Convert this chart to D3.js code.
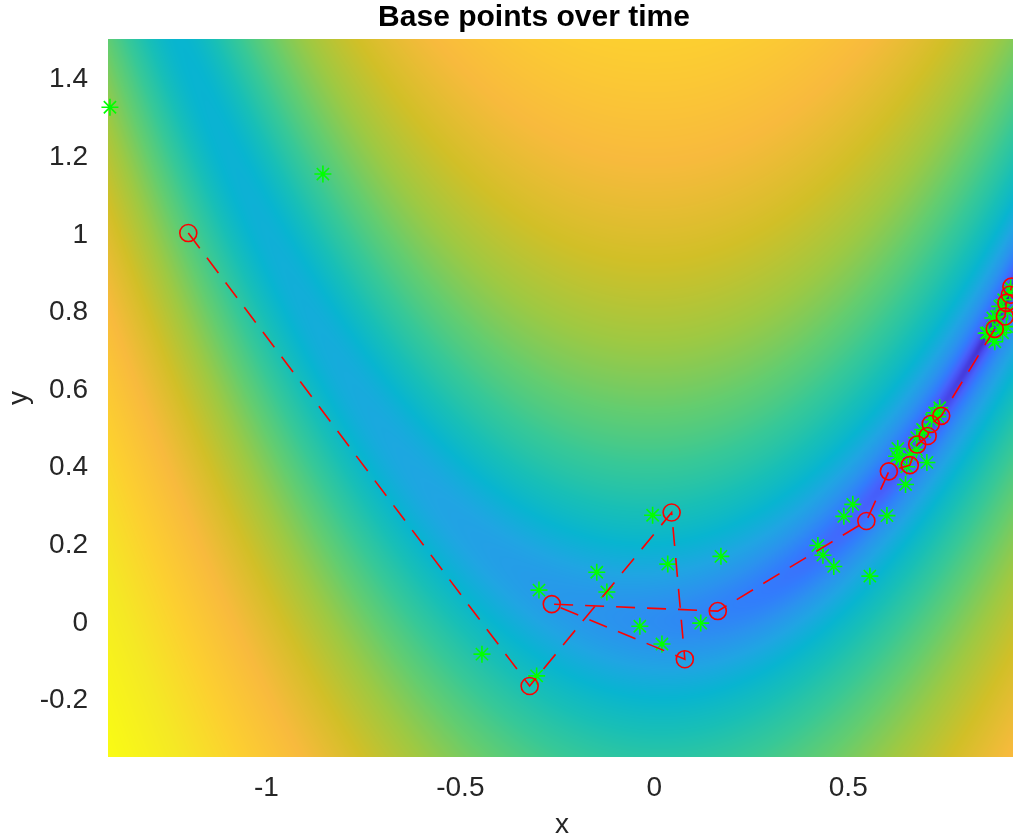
<!DOCTYPE html>
<html>
<head>
<meta charset="utf-8">
<script src="https://cdn.jsdelivr.net/npm/d3@7"></script>
<style>
  html, body { margin: 0; padding: 0; background: #fff; }
  #wrap { position: relative; width: 1013px; height: 838px; overflow: hidden; }
  #bg { position: absolute; left: 0; top: 0; }
  #fg { position: absolute; left: 0; top: 0; }
  text { font-family: "Liberation Sans", Arial, Helvetica, sans-serif; }
</style>
</head>
<body>
<div id="wrap">
  <canvas id="bg" width="1013" height="838"></canvas>
  <svg id="fg" width="1013" height="838"></svg>
</div>
<script>
// Pattern search on the Rosenbrock function: accepted base points (in order)
const baseX = [-1.2, -0.32, 0.046, 0.080, -0.263, 0.165, 0.548, 0.606, 0.660, 0.679,
               0.706, 0.714, 0.741, 0.879, 0.905, 0.909, 0.918, 0.922];
const baseY = [1.0, -0.167, 0.280, -0.098, 0.044, 0.026, 0.258, 0.386, 0.402, 0.455,
               0.477, 0.508, 0.529, 0.753, 0.785, 0.820, 0.841, 0.862];

// Trial points evaluated during the search
const trialX = [-1.402, -0.853, -0.443, -0.302, -0.296, -0.147, -0.121, -0.003, 0.036, 0.173,
                -0.036, 0.021, 0.121, 0.423, 0.436, 0.464, 0.490, 0.513, 0.557, 0.601,
                0.629, 0.634, 0.649, 0.652, 0.660, 0.704, 0.678, 0.698, 0.724, 0.737,
                0.732, 0.716, 0.693, 0.677, 0.626,
                0.861, 0.892, 0.874, 0.912, 0.902, 0.920, 0.879,
                0.857, 0.874, 0.899, 0.883, 0.892, 0.918, 0.909];
const trialY = [1.324, 1.152, -0.085, -0.141, 0.080, 0.126, 0.075, 0.273, 0.147, 0.167,
                -0.013, -0.059, -0.005, 0.195, 0.170, 0.141, 0.270, 0.301, 0.116, 0.272,
                0.445, 0.416, 0.352, 0.398, 0.429, 0.409, 0.473, 0.488, 0.537, 0.550,
                0.527, 0.519, 0.494, 0.442, 0.425,
                0.743, 0.751, 0.781, 0.797, 0.828, 0.859, 0.720,
                0.742, 0.730, 0.743, 0.785, 0.811, 0.849, 0.759];

const xTicks = [-1, -0.5, 0, 0.5];
const yTicks = [-0.2, 0, 0.2, 0.4, 0.6, 0.8, 1, 1.2, 1.4];
const xTickLabels = ["-1", "-0.5", "0", "0.5"];
const yTickLabels = ["-0.2", "0", "0.2", "0.4", "0.6", "0.8", "1", "1.2", "1.4"];

const titleText = "Base points over time";
const xLabelText = "x";
const yLabelText = "y";

// parula colormap stops
const parula = [
  [0.2422,0.1504,0.6603],[0.2706,0.2147,0.8364],[0.2813,0.3006,0.9414],[0.2699,0.3892,0.9906],
  [0.1963,0.4847,0.9892],[0.1687,0.5703,0.9359],[0.1248,0.6459,0.8883],[0.0297,0.7082,0.8163],
  [0.0964,0.7500,0.7120],[0.2161,0.7843,0.5923],[0.3909,0.8029,0.4354],[0.6174,0.7876,0.2612],
  [0.8203,0.7498,0.1535],[0.9728,0.7298,0.2394],[0.9892,0.8136,0.1885],[0.9597,0.9135,0.1423],
  [0.9769,0.9839,0.0805]
];

const rosen = (x, y) => 100 * (y - x * x) ** 2 + (1 - x) ** 2;

// layout
const plot = { left: 108, right: 1013, top: 39, bottom: 757 };
const xScale = d3.scaleLinear().domain([-1.407, 0.926]).range([plot.left, plot.right]);
const yScale = d3.scaleLinear().domain([-0.35, 1.5]).range([plot.bottom, plot.top]);

// colour scale on f^0.1
const cmap = d3.scaleLinear()
  .domain(parula.map((_, i) => i / (parula.length - 1)))
  .range(parula.map(c => d3.rgb(c[0] * 255, c[1] * 255, c[2] * 255)))
  .clamp(true);
const cLo = 0.625, cHi = 1.876;

// background surface
const canvas = document.getElementById("bg");
const ctx = canvas.getContext("2d");
const W = plot.right - plot.left, H = plot.bottom - plot.top;
const img = ctx.createImageData(W, H);
const lutN = 1024;
const lut = d3.range(lutN).map(i => d3.rgb(cmap(i / (lutN - 1))));
for (let j = 0; j < H; j++) {
  const y = yScale.invert(plot.top + j + 0.5);
  for (let i = 0; i < W; i++) {
    const x = xScale.invert(plot.left + i + 0.5);
    const u = Math.pow(rosen(x, y), 0.1);
    let t = (u - cLo) / (cHi - cLo);
    t = Math.max(0, Math.min(1, t));
    const c = lut[Math.round(t * (lutN - 1))];
    const k = (j * W + i) * 4;
    img.data[k] = c.r; img.data[k + 1] = c.g; img.data[k + 2] = c.b; img.data[k + 3] = 255;
  }
}
ctx.putImageData(img, plot.left, plot.top);

const svg = d3.select("#fg");

svg.append("defs").append("clipPath").attr("id", "plotClip")
  .append("rect").attr("x", plot.left).attr("y", plot.top).attr("width", W).attr("height", H);

// axes (tick labels only; the surface hides the axis lines)
const xAxis = d3.axisBottom(xScale).tickValues(xTicks).tickSize(0).tickPadding(19)
  .tickFormat((d, i) => xTickLabels[i]);
const yAxis = d3.axisLeft(yScale).tickValues(yTicks).tickSize(0).tickPadding(20)
  .tickFormat((d, i) => yTickLabels[i]);

const gx = svg.append("g").attr("transform", `translate(0,${plot.bottom})`).call(xAxis);
const gy = svg.append("g").attr("transform", `translate(${plot.left},0)`).call(yAxis);
[gx, gy].forEach(g => {
  g.select(".domain").remove();
  g.selectAll("text").attr("fill", "#262626").style("font-size", "28px")
    .style("font-family", '"Liberation Sans", Arial, Helvetica, sans-serif');
});

// trial points: 8-armed asterisk markers
const ast = (r) => {
  const p = d3.path();
  const d = r * 0.72;
  p.moveTo(-r, 0); p.lineTo(r, 0);
  p.moveTo(0, -r); p.lineTo(0, r);
  p.moveTo(-d, -d); p.lineTo(d, d);
  p.moveTo(-d, d); p.lineTo(d, -d);
  return p.toString();
};
svg.append("g").selectAll("path").data(d3.range(trialX.length)).join("path")
  .attr("transform", i => `translate(${xScale(trialX[i])},${yScale(trialY[i])})`)
  .attr("d", ast(8.5))
  .attr("fill", "none").attr("stroke", "#00ff00").attr("stroke-width", 1.6);

// base point path
const line = d3.line().x(i => xScale(baseX[i])).y(i => yScale(baseY[i]));
svg.append("path").datum(d3.range(baseX.length))
  .attr("clip-path", "url(#plotClip)")
  .attr("d", line)
  .attr("fill", "none").attr("stroke", "#ff0000").attr("stroke-width", 1.6)
  .attr("stroke-dasharray", "19,12");

svg.append("g").selectAll("circle").data(d3.range(baseX.length)).join("circle")
  .attr("cx", i => xScale(baseX[i])).attr("cy", i => yScale(baseY[i]))
  .attr("r", 8.5).attr("fill", "none").attr("stroke", "#ff0000").attr("stroke-width", 1.6);

// title and axis labels
svg.append("text").attr("x", 534).attr("y", 26).attr("text-anchor", "middle")
  .style("font-size", "30px").style("font-weight", "bold").attr("fill", "#000")
  .text(titleText);
svg.append("text").attr("x", 562).attr("y", 833).attr("text-anchor", "middle")
  .style("font-size", "28px").attr("fill", "#262626").text(xLabelText);
svg.append("text").attr("transform", "translate(27,398) rotate(-90)").attr("text-anchor", "middle")
  .style("font-size", "28px").attr("fill", "#262626").text(yLabelText);
</script>
</body>
</html>
